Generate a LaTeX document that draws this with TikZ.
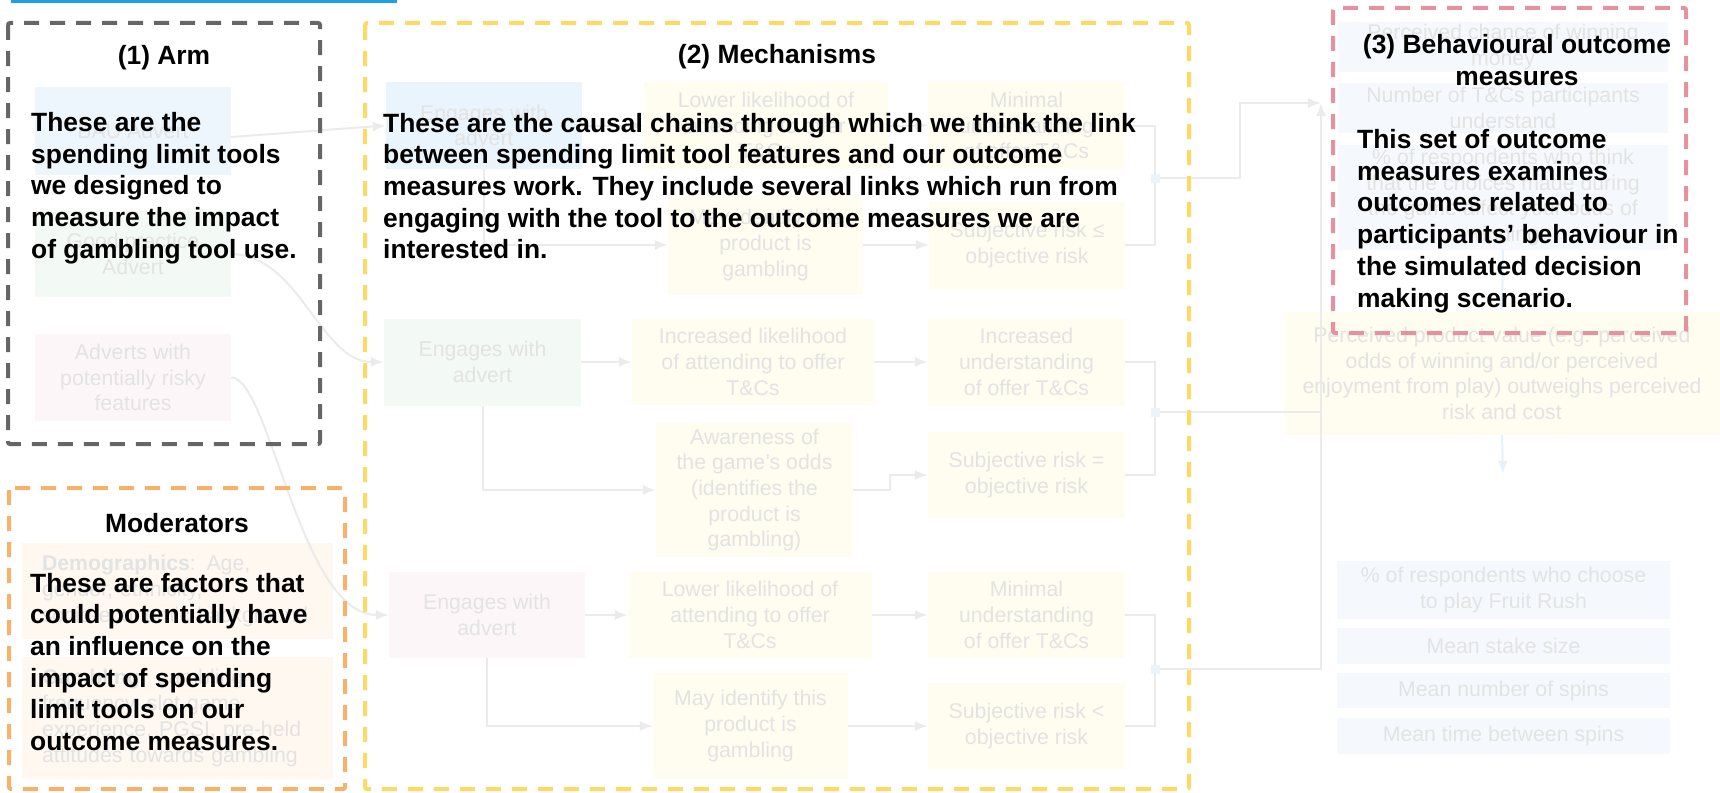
\documentclass[tikz,border=0pt]{standalone}
\usepackage{fontspec}
\setmainfont{Liberation Sans}
\usetikzlibrary{arrows.meta,calc}
\definecolor{fadeT}{HTML}{E3E3E3}
\definecolor{connC}{HTML}{EBEBEB}
\definecolor{bauC}{HTML}{EDF6FD}
\definecolor{engC}{HTML}{EAF4FC}
\definecolor{grnC}{HTML}{F3F9F5}
\definecolor{pnkC}{HTML}{FDF6F8}
\definecolor{ylwC}{HTML}{FFFCF0}
\definecolor{modC}{HTML}{FFF8F0}
\definecolor{outC}{HTML}{F5F9FD}
\definecolor{jC}{HTML}{EAF4FC}
\definecolor{bconnC}{HTML}{E6F2FB}
\definecolor{grayD}{HTML}{666666}
\definecolor{ylwD}{HTML}{FFD966}
\definecolor{orgD}{HTML}{F6B26B}
\definecolor{pnkD}{HTML}{E6919F}
\definecolor{topB}{HTML}{1BA1E2}
\newcommand\fadefont{\fontsize{21.3}{25.7}\selectfont}
\newcommand\boldfont{\fontsize{26.4}{31.7}\selectfont\bfseries}
\begin{document}
\begin{tikzpicture}[x=1pt,y=-1pt,
  fbox/.style 2 args={rectangle, inner sep=1pt, align=center, text=fadeT, font=\fadefont, minimum width=#1pt, minimum height=#2pt},
  conn/.style={draw=connC, line width=2pt, -{Latex[length=13pt,width=10pt]}},
  plainc/.style={draw=connC, line width=2pt},
  bconn/.style={draw=bconnC, line width=2pt, -{Latex[length=13pt,width=10pt]}},
  jdot/.style={rectangle, fill=jC, minimum size=9pt, inner sep=0pt},
  dbox/.style={line width=4pt, dash pattern=on 15pt off 11pt, rounded corners=2pt},
  btext/.style={font=\boldfont, align=left, inner sep=0pt, anchor=west, text=black},
  ttl/.style={font=\boldfont, align=center, inner sep=0pt, text=black}]
\useasboundingbox (0,0) rectangle (1720,792);

\draw[line width=3pt, topB] (11,1.5) -- (397,1.5);

% Arm column
\node[fbox={196}{88}, fill=bauC] (bau) at (133,131) {BAU Advert};
\node[fbox={196}{86}, fill=grnC] (good) at (133,254) {Good practice\\Advert};
\node[fbox={196}{87}, fill=pnkC] (risky) at (133,377.5) {Adverts with\\potentially risky\\features};

% Row 1
\node[fbox={196}{87}, fill=engC] (e1) at (484,125.5) {Engages with\\advert};
\node[fbox={244}{87}, fill=ylwC] (l1) at (766,125.5) {Lower likelihood of\\attending to offer\\T\&Cs};
\node[fbox={197}{87}, fill=ylwC] (m1) at (1026.5,125.5) {Minimal\\understanding\\of offer T\&Cs};
\node[fbox={195}{100}, fill=ylwC] (i1) at (765.5,245) {May identify this\\product is\\gambling};
\node[fbox={196}{87}, fill=ylwC] (s1) at (1027,245) {Subjective risk ≤\\objective risk};

% Row 2
\node[fbox={197}{87}, fill=grnC] (e2) at (482.5,362) {Engages with\\advert};
\node[fbox={242}{86}, fill=ylwC] (l2) at (753,362) {Increased likelihood\\of attending to offer\\T\&Cs};
\node[fbox={197}{87}, fill=ylwC] (m2) at (1026.5,362) {Increased\\understanding\\of offer T\&Cs};
\node[fbox={197}{134}, fill=ylwC] (a2) at (754.5,490) {Awareness of\\the game’s odds\\(identifies the\\product is\\gambling)};
\node[fbox={197}{86}, fill=ylwC] (s2) at (1026.5,475) {Subjective risk =\\objective risk};

% Row 3
\node[fbox={196}{86}, fill=pnkC] (e3) at (487,615) {Engages with\\advert};
\node[fbox={244}{86}, fill=ylwC] (l3) at (750,615) {Lower likelihood of\\attending to offer\\T\&Cs};
\node[fbox={197}{86}, fill=ylwC] (m3) at (1026.5,615) {Minimal\\understanding\\of offer T\&Cs};
\node[fbox={195}{106}, fill=ylwC] (i3) at (750.5,726) {May identify this\\product is\\gambling};
\node[fbox={197}{86}, fill=ylwC] (s3) at (1026.5,726) {Subjective risk <\\objective risk};

% Right column
\node[fbox={330}{50}, fill=outC] (o1) at (1503,47) {Perceived chance of winning\\money};
\node[fbox={330}{50}, fill=outC] (o2) at (1503,108) {Number of T\&Cs participants\\understand};
\node[fbox={330}{105}, fill=outC] (o3) at (1503,197.5) {\% of respondents who think\\that the choices made during\\the game affect your odds of\\winning};
\node[fbox={436}{123}, fill=ylwC] (pv) at (1502,373.5) {Perceived product value (e.g. perceived\\odds of winning and/or perceived\\enjoyment from play) outweighs perceived\\risk and cost};
\node[fbox={333}{58}, fill=outC] (r1) at (1503.5,590) {\% of respondents who choose\\to play Fruit Rush};
\node[fbox={333}{36}, fill=outC] (r2) at (1503.5,646) {Mean stake size};
\node[fbox={333}{35}, fill=outC] (r3) at (1503.5,690.5) {Mean number of spins};
\node[fbox={333}{36}, fill=outC] (r4) at (1503.5,736) {Mean time between spins};

% Moderator boxes
\node[fbox={311}{96}, fill=modC, align=left, text width=271pt, inner xsep=20pt] (d1) at (177.5,591) {\textbf{Demographics}: Age,\\gender, ethnicity,\\socio-economic background};
\node[fbox={311}{122}, fill=modC, align=left, text width=271pt, inner xsep=20pt] (d2) at (177.5,718) {\textbf{Gambling}: gambling\\frequency, slot game\\experience, PGSI, pre-held\\attitudes towards gambling};

% Connectors from arms
\draw[conn] ([yshift=-6pt]bau.east) -- (e1.west);
\draw[conn] (good.east) .. controls (300,255) and (320,362) .. (e2.west);
\draw[conn] (risky.east) .. controls (270,378) and (300,615) .. (e3.west);

% Row 1 connectors
\coordinate (j1) at (1155,178);
\coordinate (tgt) at (1321,103);
\coordinate (k1) at (1240,103);
\draw[conn] (e1.east) -- (l1.west);
\draw[conn] (l1.east) -- (m1.west);
\draw[conn] (e1.south) |- (i1.west);
\draw[conn] (i1.east) -- (s1.west);
\draw[plainc] (m1.east) -| (j1);
\draw[plainc] (s1.east) -| (j1);
\draw[conn] (j1) -| (k1) -- (tgt);

% Row 2 connectors
\coordinate (j2) at (1155,412);
\draw[conn] (e2.east) -- (l2.west);
\draw[conn] (l2.east) -- (m2.west);
\draw[conn] (e2.south) |- (a2.west);
\draw[conn] (a2.east) -- ++(37,0) |- (s2.west);
\draw[plainc] (m2.east) -| (j2);
\draw[plainc] (s2.east) -| (j2);
\draw[plainc] (j2) -- (j2 -| tgt);

% Row 3 connectors
\coordinate (j3) at (1155,669);
\draw[conn] (e3.east) -- (l3.west);
\draw[conn] (l3.east) -- (m3.west);
\draw[conn] (e3.south) |- (i3.west);
\draw[conn] (i3.east) -- (s3.west);
\draw[plainc] (m3.east) -| (j3);
\draw[plainc] (s3.east) -| (j3);
\draw[conn] (j3) -| (tgt);

\node[jdot] (jd1) at (j1) {};
\node[jdot] (jd2) at (j2) {};
\node[jdot] (jd3) at (j3) {};

% Outcome connectors
\coordinate (pvout) at (1503,474);
\draw[bconn] (o3.south) -- (pv.north);
\draw[bconn] (pv.south) -- (pvout);

% Dashed group boxes
\draw[dbox, draw=grayD] (8,23) rectangle (320,444);
\draw[dbox, draw=ylwD] (365,23) rectangle (1189,789);
\draw[dbox, draw=orgD] (9,488) rectangle (345,789);
\draw[dbox, draw=pnkD] (1333,8) rectangle (1686,333);

% Titles
\node[ttl] (t1) at (164,58) {(1) Arm};
\node[ttl] (t2) at (777,57) {(2) Mechanisms};
\node[ttl] (t3) at (1517,60) {(3) Behavioural outcome\\measures};
\node[ttl] (t4) at (177,523) {Moderators};

% Bold explanatory texts
\node[btext] (x1) at (31,188) {These are the\\spending limit tools\\we designed to\\measure the impact\\of gambling tool use.};
\node[btext] (x2) at (383,186) {These are the causal chains through which we think the link\\between spending limit tool features and our outcome\\measures work. They include several links which run from\\engaging with the tool to the outcome measures we are\\interested in.};
\node[btext] (x3) at (1357,221) {This set of outcome\\measures examines\\outcomes related to\\participants’ behaviour in\\the simulated decision\\making scenario.};
\node[btext] (x4) at (30,662) {These are factors that\\could potentially have\\an influence on the\\impact of spending\\limit tools on our\\outcome measures.};
\end{tikzpicture}
\end{document}
